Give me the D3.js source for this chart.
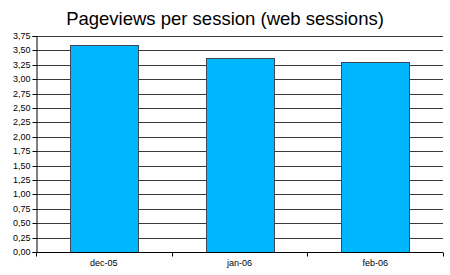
<!DOCTYPE html>
<html>
<head>
<meta charset="utf-8">
<script src="https://cdn.jsdelivr.net/npm/d3@7"></script>
<style>
  body { margin: 0; background: #fff; }
  svg { display: block; font-family: "Liberation Sans", Arial, sans-serif; }
  .tick text { font-size: 9px; fill: #000; }
</style>
</head>
<body>
<div id="chart"></div>
<script>
const categories = ["dec-05", "jan-06", "feb-06"];
const values = [3.60, 3.37, 3.29];
const yTicks = [0, 0.25, 0.5, 0.75, 1, 1.25, 1.5, 1.75, 2, 2.25, 2.5, 2.75, 3, 3.25, 3.5, 3.75];

const w = 450, h = 275;
const plotLeft = 36, plotRight = 443, plotTop = 36, plotBottom = 252;

const svg = d3.select("#chart").append("svg")
  .attr("width", w).attr("height", h);

const x = d3.scaleBand().domain(categories).range([plotLeft, plotRight]).paddingInner(0.5).paddingOuter(0.25);
const y = d3.scaleLinear().domain([0, 3.75]).range([plotBottom, plotTop]);

// title
svg.append("text")
  .attr("x", 225).attr("y", 25)
  .attr("text-anchor", "middle")
  .style("font-size", "18.5px")
  .text("Pageviews per session (web sessions)");

// gridlines
svg.append("g").selectAll("line")
  .data(yTicks.filter(d => d > 0))
  .join("line")
  .attr("x1", plotLeft).attr("x2", plotRight)
  .attr("y1", d => Math.round(y(d)) + 0.5)
  .attr("y2", d => Math.round(y(d)) + 0.5)
  .attr("stroke", "#3a3a3a")
  .attr("stroke-width", 1);

// bars
svg.append("g").selectAll("rect")
  .data(values)
  .join("rect")
  .attr("x", (d, i) => Math.round(x(categories[i])) + 0.5)
  .attr("width", Math.round(x.bandwidth()))
  .attr("y", d => Math.round(y(d)) + 0.5)
  .attr("height", d => Math.round(y(0)) - Math.round(y(d)))
  .attr("fill", "#00b7ff")
  .attr("stroke", "#3d4a55")
  .attr("stroke-width", 1);

// y axis
const yAxis = d3.axisLeft(y)
  .tickValues(yTicks)
  .tickFormat(d => d3.format(".2f")(d).replace(".", ","))
  .tickSize(4)
  .tickPadding(2);

const ya = svg.append("g")
  .attr("transform", `translate(${plotLeft + 0.5},0)`)
  .call(yAxis);
ya.select(".domain").attr("stroke", "#000");
ya.selectAll(".tick").attr("transform", d => `translate(0,${Math.round(y(d)) + 0.5})`);

// x axis
const xAxis = d3.axisBottom(x).tickSize(0).tickPadding(7);
const xa = svg.append("g")
  .attr("transform", `translate(0,${plotBottom + 0.5})`)
  .call(xAxis);
xa.select(".domain").attr("d", `M${plotLeft},0H${plotRight}`).attr("stroke", "#000");

// category separator ticks
const edges = [plotLeft, ...categories.map((c, i) => plotLeft + (i + 1) * (plotRight - plotLeft) / categories.length)];
xa.selectAll(".sep")
  .data(edges)
  .join("line")
  .attr("class", "sep")
  .attr("x1", d => Math.round(d) + 0.5).attr("x2", d => Math.round(d) + 0.5)
  .attr("y1", 0).attr("y2", 4)
  .attr("stroke", "#000");
</script>
</body>
</html>
